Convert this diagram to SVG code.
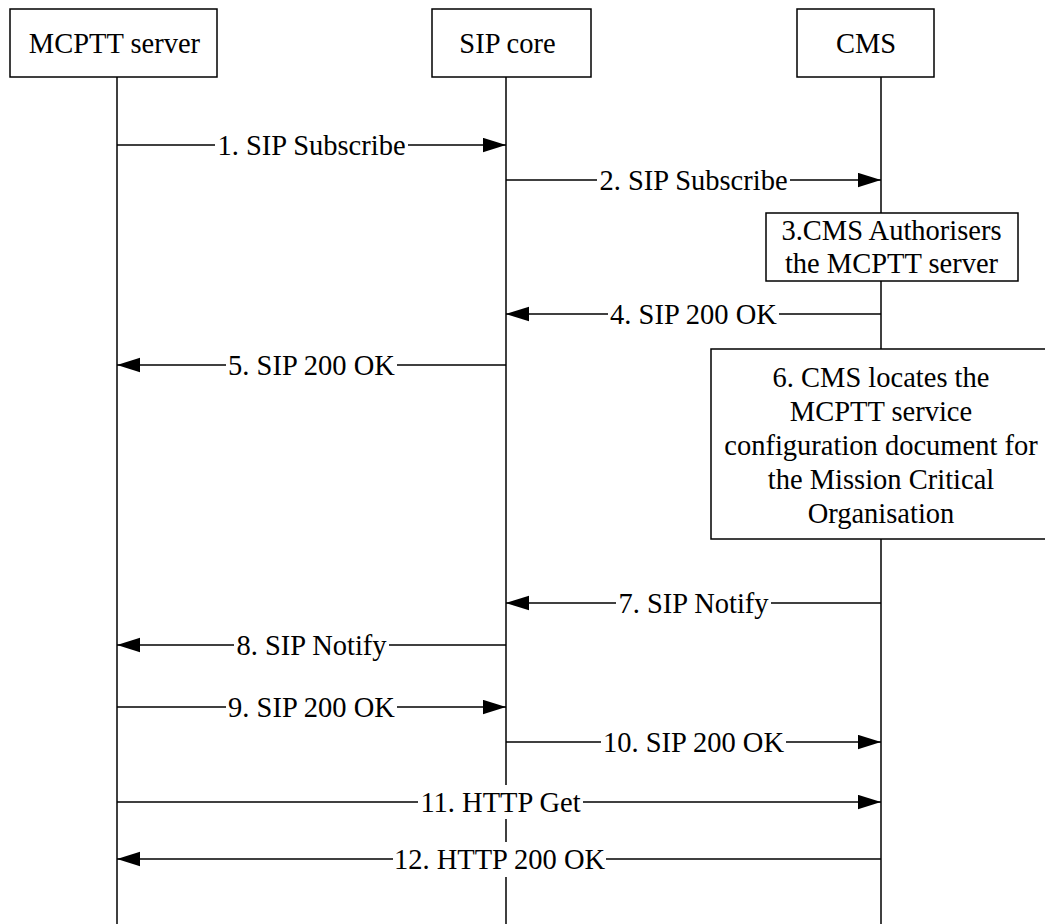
<svg xmlns="http://www.w3.org/2000/svg" width="1045" height="924" viewBox="0 0 1045 924">
<style>
.box{fill:#fff;stroke:#000;stroke-width:1.5}
.life{stroke:#000;stroke-width:1.5;fill:none}
.msg{stroke:#000;stroke-width:1.5;fill:none;marker-end:url(#ah)}
.t{font-size:28.5px;fill:#000;text-anchor:middle}
.bg{fill:#fff;stroke:none}
</style>
<defs>
<marker id="ah" markerUnits="userSpaceOnUse" markerWidth="24" markerHeight="16" refX="23" refY="7.5" orient="auto">
<path d="M0,0.3 L23,7.5 L0,14.7 z" fill="#000"/>
</marker>
</defs>
<g font-family="Liberation Serif, Times New Roman, Times, serif">
<g id="lifelines">
<line class="life" x1="117" y1="77" x2="117" y2="924"/>
<line class="life" x1="506" y1="77" x2="506" y2="924"/>
<line class="life" x1="881" y1="77" x2="881" y2="924"/>
</g>
<g id="node-mcptt">
<rect class="box" x="10" y="9" width="207" height="68"/>
<text class="t" x="114.5" y="53">MCPTT server</text>
</g>
<g id="node-sipcore">
<rect class="box" x="432" y="9" width="159" height="68"/>
<text class="t" x="507.5" y="53">SIP core</text>
</g>
<g id="node-cms">
<rect class="box" x="797" y="9" width="137" height="68"/>
<text class="t" x="866" y="53">CMS</text>
</g>
<g id="note-3">
<rect class="box" x="766" y="213" width="252" height="68"/>
<text class="t" x="891.5" y="240">3.CMS Authorisers</text>
<text class="t" x="891.5" y="273">the MCPTT server</text>
</g>
<g id="note-6">
<rect class="box" x="711" y="349" width="340" height="190"/>
<text class="t" x="881" y="387">6. CMS locates the</text>
<text class="t" x="881" y="421">MCPTT service</text>
<text class="t" x="881" y="455">configuration document for</text>
<text class="t" x="881" y="489">the Mission Critical</text>
<text class="t" x="881" y="523">Organisation</text>
</g>
<g id="connectors">
<line class="msg" x1="117" y1="145" x2="506" y2="145"/>
<rect class="bg" x="215" y="128" width="193" height="34"/>
<text class="t" x="311.5" y="155">1. SIP Subscribe</text>

<line class="msg" x1="506" y1="180" x2="881" y2="180"/>
<rect class="bg" x="597" y="163" width="193" height="34"/>
<text class="t" x="693.5" y="190">2. SIP Subscribe</text>

<line class="msg" x1="881" y1="314" x2="506" y2="314"/>
<rect class="bg" x="608" y="297" width="171" height="34"/>
<text class="t" x="693.5" y="324">4. SIP 200 OK</text>

<line class="msg" x1="506" y1="365" x2="117" y2="365"/>
<rect class="bg" x="226" y="348" width="171" height="34"/>
<text class="t" x="311.5" y="375">5. SIP 200 OK</text>

<line class="msg" x1="881" y1="603" x2="506" y2="603"/>
<rect class="bg" x="616" y="586" width="155" height="34"/>
<text class="t" x="693.5" y="613">7. SIP Notify</text>

<line class="msg" x1="506" y1="645" x2="117" y2="645"/>
<rect class="bg" x="234" y="628" width="155" height="34"/>
<text class="t" x="311.5" y="655">8. SIP Notify</text>

<line class="msg" x1="117" y1="707" x2="506" y2="707"/>
<rect class="bg" x="226" y="690" width="171" height="34"/>
<text class="t" x="311.5" y="717">9. SIP 200 OK</text>

<line class="msg" x1="506" y1="742" x2="881" y2="742"/>
<rect class="bg" x="601" y="725" width="185" height="34"/>
<text class="t" x="693.5" y="752">10. SIP 200 OK</text>

<line class="msg" x1="117" y1="802" x2="881" y2="802"/>
<rect class="bg" x="418" y="785" width="165" height="34"/>
<text class="t" x="500.5" y="812">11. HTTP Get</text>

<line class="msg" x1="881" y1="859" x2="117" y2="859"/>
<rect class="bg" x="393" y="842" width="213" height="35"/>
<text class="t" x="499.5" y="869">12. HTTP 200 OK</text>
</g>
</g>
</svg>
